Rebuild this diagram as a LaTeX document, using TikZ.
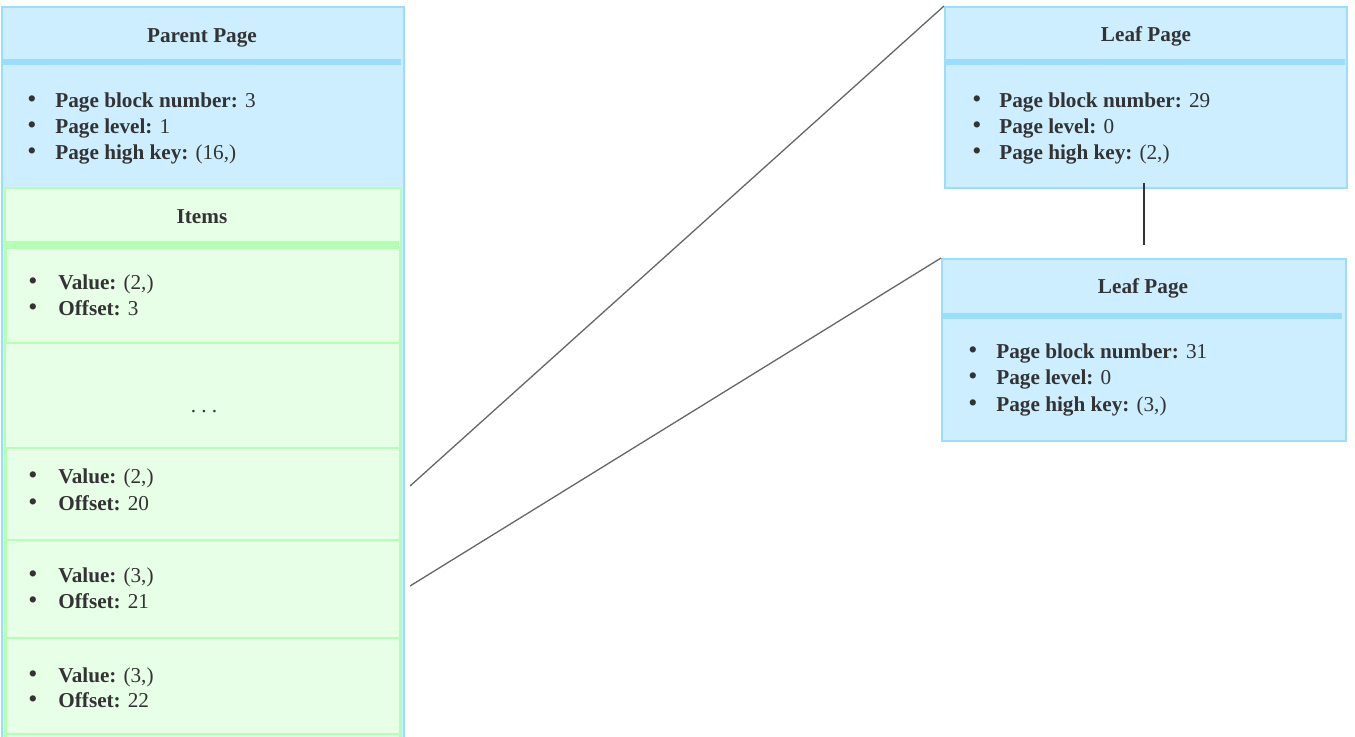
\documentclass[tikz,border=0pt]{standalone}
\usepackage{fontspec}
\setmainfont{Liberation Serif}
\definecolor{fillBlue}{HTML}{CCEEFF}
\definecolor{bordBlue}{HTML}{99DDFF}
\definecolor{fillGreen}{HTML}{E6FFE6}
\definecolor{bordGreen}{HTML}{B3FFB3}
\definecolor{txtc}{HTML}{333333}
\definecolor{linec}{HTML}{666666}
\tikzset{
  bluebox/.style={draw=bordBlue, fill=fillBlue, line width=1pt, inner sep=0pt, anchor=north west},
  greenbox/.style={draw=bordGreen, fill=fillGreen, line width=1pt, inner sep=0pt, anchor=north west},
  greenfill/.style={fill=fillGreen, inner sep=0pt, anchor=north west},
  bluesep/.style={draw=bordBlue, line width=3pt},
  greensep/.style={draw=bordGreen, line width=3pt},
  greenline/.style={draw=bordGreen, line width=1pt},
  txt/.style={inner sep=0pt, text=txtc, font=\fontsize{10.6pt}{13pt}\selectfont},
  hdr/.style={txt, anchor=base, font=\fontsize{10.6pt}{13pt}\selectfont\bfseries},
  link/.style={draw=linec, line width=0.65pt},
  vlink/.style={draw=txtc, line width=1pt}
}
\newcommand\li[6]{%
  \node[txt,anchor=base] (#1b) at (#2,#4) {\fontsize{13pt}{13pt}\selectfont\textbullet};
  \node[txt,anchor=base west] (#1) at (#3,#4) {\textbf{#5} #6};}
\begin{document}
\begin{tikzpicture}[x=0.5pt,y=-0.5pt]
\useasboundingbox (0,0) rectangle (1355,736);
% Parent page
\node[bluebox, minimum width=201pt, minimum height=370pt] (parent) at (1,6) {};
\draw[bluesep] (1,62) -- (401,62);
\node[hdr] (parentT) at (202,42) {Parent Page};
\li{pa}{32}{55}{107}{Page block number:}{3}
\li{pb}{32}{55}{133}{Page level:}{1}
\li{pc}{32}{55}{159}{Page high key:}{(16,)}
% Items
\node[greenbox, minimum width=198pt, minimum height=300pt] (items) at (4,187) {};
\draw[greensep] (5,244) -- (399,244);
\node[hdr] (itemsT) at (202,223) {Items};
\node[greenbox, minimum width=197pt, minimum height=48pt] (item1) at (5,247) {};
\li{ia}{33}{58}{289}{Value:}{(2,)}
\li{ib}{33}{58}{315}{Offset:}{3}
\node[greenfill, minimum width=197pt, minimum height=52pt] (dots) at (5,343) {};
\draw[greenline] (dots.north west) -- (dots.south west);
\draw[greenline] (dots.north east) -- (dots.south east);
\draw[greenline] (dots.north west) -- (dots.north east);
\node[txt, anchor=base] (dotsT) at (204,412) {.\hspace{2.6pt}.\hspace{2.6pt}.};
\node[greenbox, minimum width=197pt, minimum height=46pt] (item2) at (5,447) {};
\li{ic}{33}{58}{483}{Value:}{(2,)}
\li{id}{33}{58}{510}{Offset:}{20}
\node[greenbox, minimum width=197pt, minimum height=49pt] (item3) at (5,539) {};
\li{ie}{33}{58}{582}{Value:}{(3,)}
\li{if}{33}{58}{608}{Offset:}{21}
\node[greenbox, minimum width=197pt, minimum height=48pt] (item4) at (5,637) {};
\li{ig}{33}{58}{682}{Value:}{(3,)}
\li{ih}{33}{58}{707}{Offset:}{22}
\node[greenbox, minimum width=197pt, minimum height=40pt] (item5) at (5,733) {};
% Leaf 1
\node[bluebox, minimum width=201pt, minimum height=90.5pt] (leaf1) at (944,6) {};
\draw[bluesep] (945,62) -- (1345,62);
\node[hdr] (leaf1T) at (1146,41) {Leaf Page};
\li{la}{977}{999}{107}{Page block number:}{29}
\li{lb}{977}{999}{133}{Page level:}{0}
\li{lc}{977}{999}{159}{Page high key:}{(2,)}
% Leaf 2
\node[bluebox, minimum width=202pt, minimum height=91pt] (leaf2) at (941,258) {};
\draw[bluesep] (942,316) -- (1342,316);
\node[hdr] (leaf2T) at (1143,293) {Leaf Page};
\li{ma}{973}{996}{358}{Page block number:}{31}
\li{mb}{973}{996}{384}{Page level:}{0}
\li{mc}{973}{996}{411}{Page high key:}{(3,)}
% connectors
\coordinate (s1) at (410,486);
\coordinate (s2) at (410,586);
\coordinate (v1) at (1144,183);
\coordinate (v2) at (1144,245);
\draw[link] (s1) -- (leaf1.north west);
\draw[link] (s2) -- (leaf2.north west);
\draw[vlink] (v1) -- (v2);
\end{tikzpicture}
\end{document}
